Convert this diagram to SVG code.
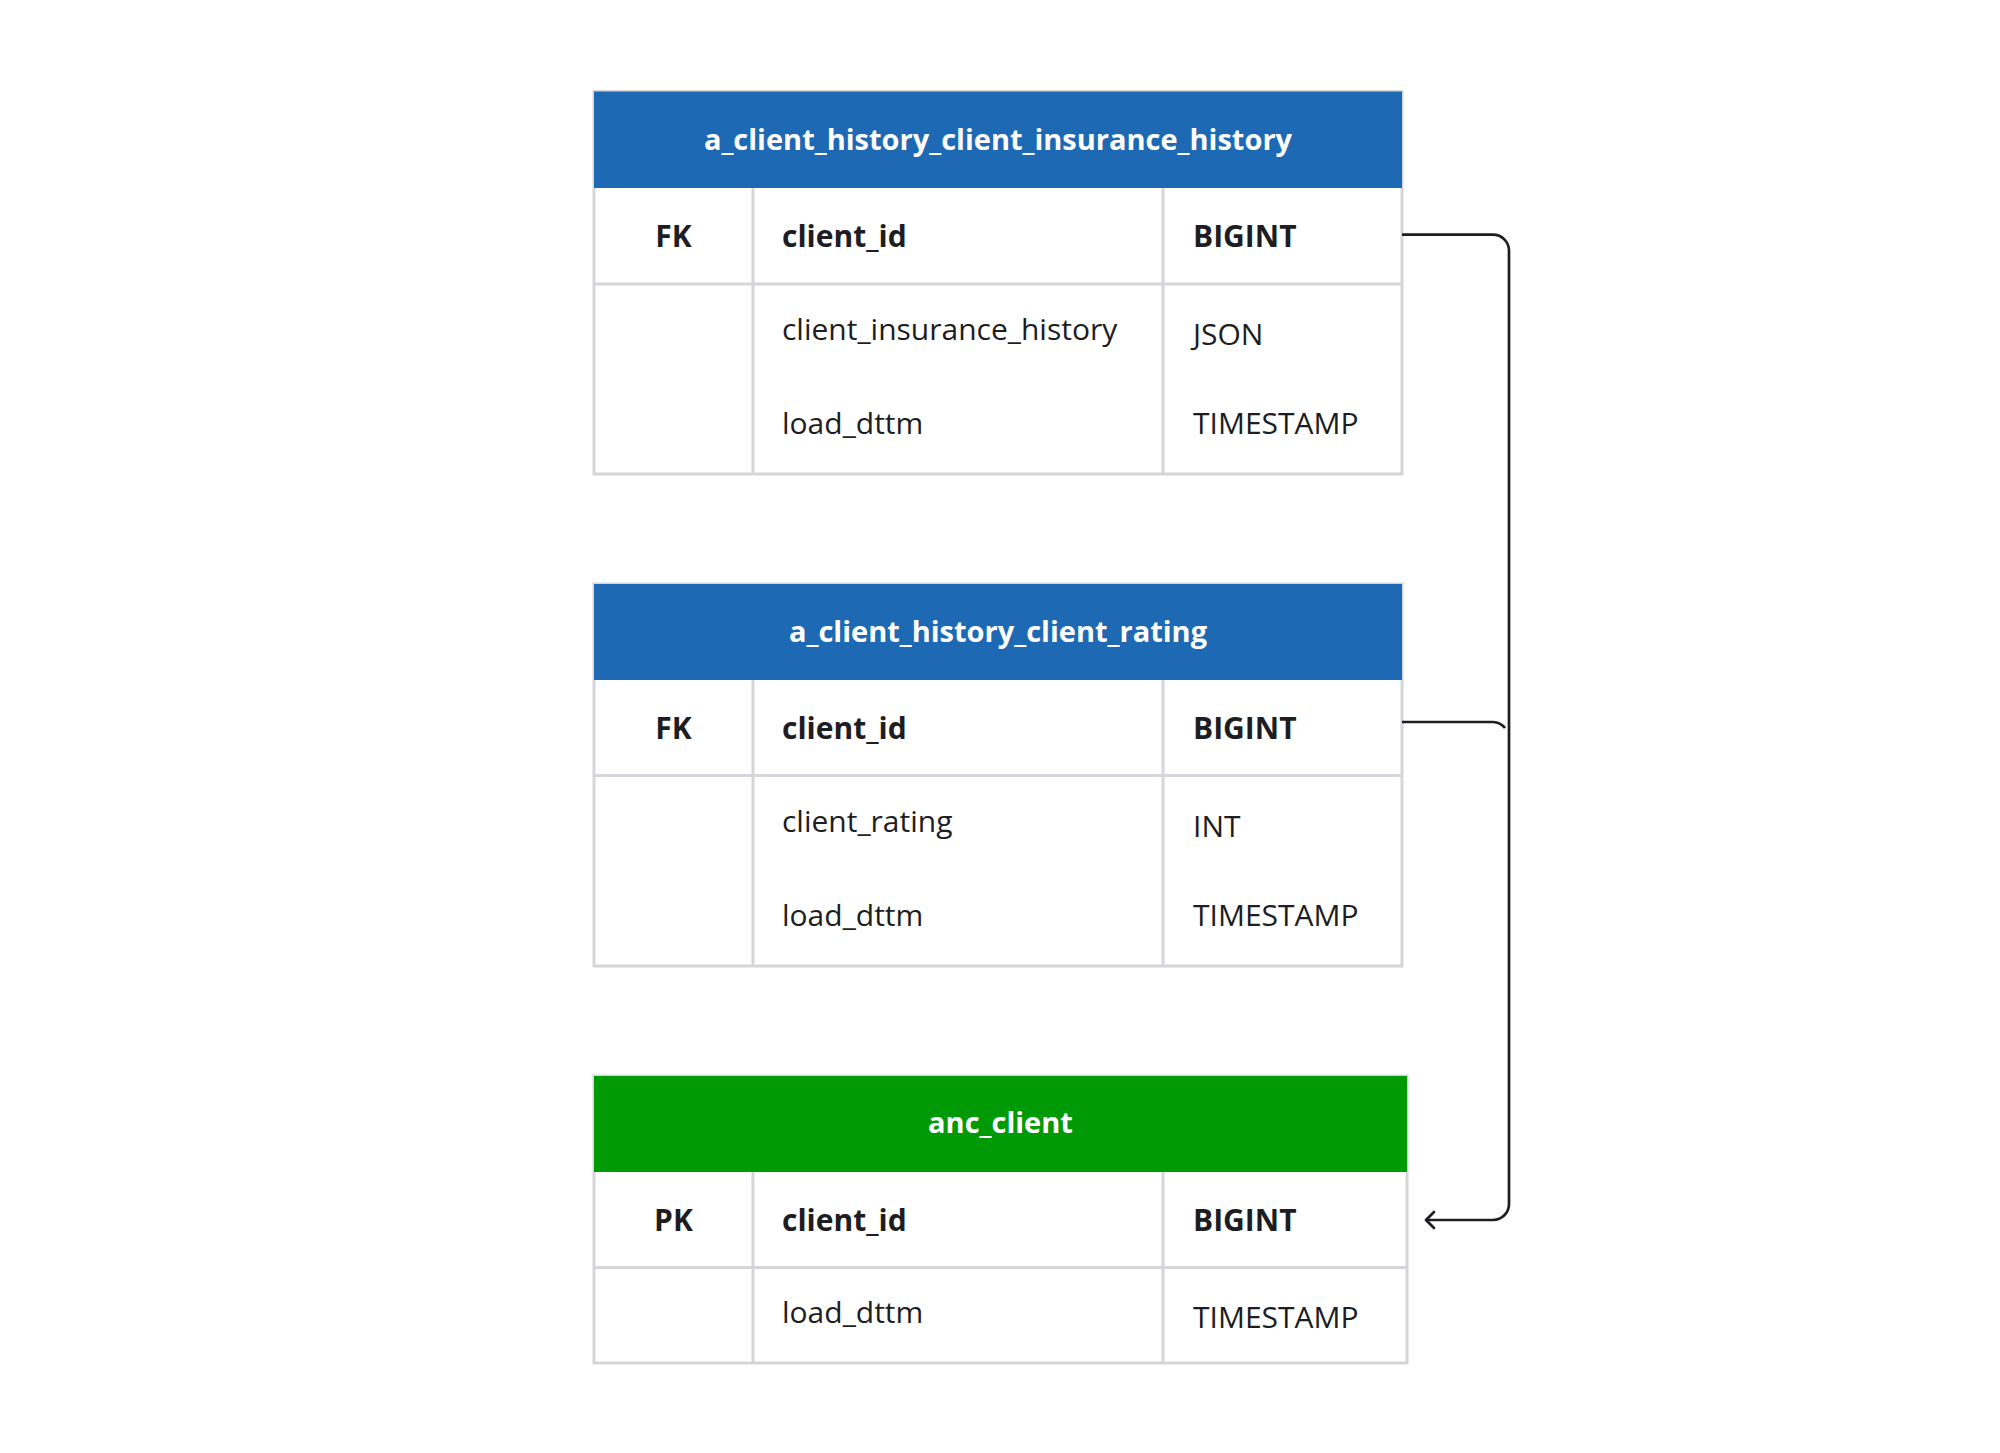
<svg xmlns="http://www.w3.org/2000/svg" width="2000" height="1453" viewBox="0 0 2000 1453">
<defs>
<style>
.bg{fill:#ffffff}
.body{fill:#ffffff;stroke:#d5d5da;stroke-width:3}
.grid{stroke:#d5d5da;stroke-width:3;fill:none}
.hblue{fill:#1e69b4}
.hgreen{fill:#009a06}
.ht{font-family:"Open Sans","Noto Sans",sans-serif;font-size:29px;font-weight:700;fill:#ffffff;text-anchor:middle}
.b{font-family:"Open Sans","Noto Sans",sans-serif;font-size:30px;font-weight:700;fill:#1d1d22}
.r{font-family:"Open Sans","Noto Sans",sans-serif;font-size:30px;font-weight:400;fill:#1d1d22}
.mid{text-anchor:middle}
.conn{fill:none;stroke:#1d1d22;stroke-width:2.7}
</style>
<marker id="arr" viewBox="-11 -11 13 22" refX="0" refY="0" markerWidth="13" markerHeight="22" markerUnits="userSpaceOnUse" orient="auto">
<path d="M-8,-8 L0,0 L-8,8" fill="none" stroke="#1d1d22" stroke-width="2.7" stroke-linecap="round" stroke-linejoin="round"/>
</marker>
</defs>
<rect class="bg" x="0" y="0" width="2000" height="1453"/>

<g id="table-insurance-history">
<rect class="body" x="594" y="91.5" width="808" height="382.5"/>
<rect class="hblue" x="594" y="91.5" width="808" height="96.5"/>
<line class="grid" x1="594" y1="284" x2="1402" y2="284"/>
<line class="grid" x1="753" y1="188" x2="753" y2="474"/>
<line class="grid" x1="1163" y1="188" x2="1163" y2="474"/>
<text class="ht" x="998" y="150">a_client_history_client_insurance_history</text>
<text class="b mid" x="673.5" y="246.5">FK</text>
<text class="b" x="782" y="246.5">client_id</text>
<text class="b" x="1193" y="246.5">BIGINT</text>
<text class="r" x="782" y="340">client_insurance_history</text>
<text class="r" x="1193" y="345">JSON</text>
<text class="r" x="782" y="434">load_dttm</text>
<text class="r" x="1193" y="434">TIMESTAMP</text>
</g>

<g id="table-client-rating">
<rect class="body" x="594" y="584" width="808" height="382"/>
<rect class="hblue" x="594" y="584" width="808" height="96"/>
<line class="grid" x1="594" y1="775.5" x2="1402" y2="775.5"/>
<line class="grid" x1="753" y1="680" x2="753" y2="966"/>
<line class="grid" x1="1163" y1="680" x2="1163" y2="966"/>
<text class="ht" x="998" y="642">a_client_history_client_rating</text>
<text class="b mid" x="673.5" y="738.5">FK</text>
<text class="b" x="782" y="738.5">client_id</text>
<text class="b" x="1193" y="738.5">BIGINT</text>
<text class="r" x="782" y="832">client_rating</text>
<text class="r" x="1193" y="837">INT</text>
<text class="r" x="782" y="926">load_dttm</text>
<text class="r" x="1193" y="926">TIMESTAMP</text>
</g>

<g id="table-anc-client">
<rect class="body" x="594" y="1076" width="813" height="287"/>
<rect class="hgreen" x="594" y="1076" width="813" height="96"/>
<line class="grid" x1="594" y1="1267.5" x2="1407" y2="1267.5"/>
<line class="grid" x1="753" y1="1172" x2="753" y2="1363"/>
<line class="grid" x1="1163" y1="1172" x2="1163" y2="1363"/>
<text class="ht" x="1000.5" y="1133">anc_client</text>
<text class="b mid" x="673.5" y="1230.5">PK</text>
<text class="b" x="782" y="1230.5">client_id</text>
<text class="b" x="1193" y="1230.5">BIGINT</text>
<text class="r" x="782" y="1323">load_dttm</text>
<text class="r" x="1193" y="1328">TIMESTAMP</text>
</g>

<g id="connectors">
<path class="conn" d="M1402,234.7 H1493 A16,16 0 0 1 1509,250.7 V1204 A16,16 0 0 1 1493,1220 H1426" marker-end="url(#arr)"/>
<path class="conn" d="M1402,722 H1493 A16,16 0 0 1 1505,728"/>
</g>
</svg>
